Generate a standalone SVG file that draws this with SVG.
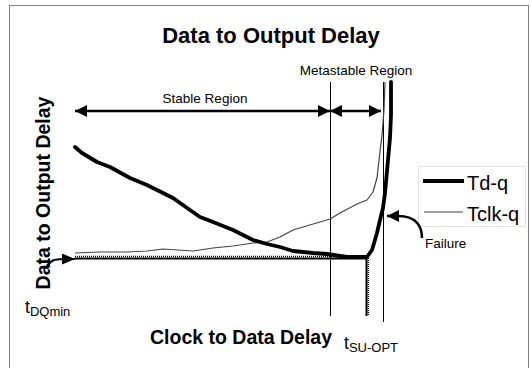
<svg xmlns="http://www.w3.org/2000/svg" width="531" height="368" viewBox="0 0 531 368">
  <defs>
    <marker id="head" viewBox="0 0 12 12" refX="12" refY="6" markerWidth="12" markerHeight="12" markerUnits="userSpaceOnUse" orient="auto">
      <path d="M0,0 L12,6 L0,12 Z" fill="#000"/>
    </marker>
    <marker id="headSmall" viewBox="0 0 13 11" refX="13" refY="5.5" markerWidth="13" markerHeight="11" markerUnits="userSpaceOnUse" orient="auto">
      <path d="M0,0 L13,5.5 L0,11 Z" fill="#000"/>
    </marker>
  </defs>
  <style>
    text { font-family: "Liberation Sans", Arial, sans-serif; fill: #000; }
    .title { font-size: 22px; font-weight: bold; }
    .axis { font-size: 19.5px; font-weight: bold; }
    .region { font-size: 13.5px; }
    .legend { font-size: 20px; }
    .sym { font-size: 17.5px; }
    .sub { font-size: 13px; }
    .guide { stroke: #000; stroke-width: 1; fill: none; }
    .span { stroke: #000; stroke-width: 2.5; fill: none; marker-end: url(#head); }
    .tdq { stroke: #000; stroke-width: 3.8; fill: none; stroke-linejoin: round; stroke-linecap: round; }
    .tclk { stroke: #444; stroke-width: 1.2; fill: none; stroke-linejoin: round; }
    .floor { stroke: #000; stroke-width: 2; fill: none; }
    .floorHatch { stroke: #000; stroke-width: 1.5; fill: none; stroke-dasharray: 1 1; }
  </style>

  <rect x="0" y="0" width="531" height="368" fill="#fff"/>
  <!-- chart frame -->
  <rect x="9.5" y="5.5" width="519" height="380" fill="none" stroke="#808080" stroke-width="1"/>

  <g id="title">
    <text class="title" x="271" y="43" text-anchor="middle">Data to Output Delay</text>
  </g>

  <g id="y-axis-label">
    <text class="axis" transform="translate(50,193) rotate(-90)" text-anchor="middle">Data to Output Delay</text>
  </g>

  <g id="x-axis-label">
    <text class="axis" x="241" y="344" text-anchor="middle">Clock to Data Delay</text>
  </g>

  <g id="region-labels">
    <text class="region" x="205" y="103" text-anchor="middle">Stable Region</text>
    <text class="region" x="356" y="75" text-anchor="middle">Metastable Region</text>
  </g>

  <g id="tDQmin">
    <text class="sym" x="25" y="313">t<tspan class="sub" dy="2.5">DQmin</tspan></text>
  </g>

  <g id="tSU-OPT">
    <text class="sym" x="344" y="349">t<tspan class="sub" dy="3">SU-OPT</tspan></text>
  </g>

  <g id="failure-label">
    <text class="region" x="425" y="248">Failure</text>
  </g>

  <g id="legend">
    <rect x="418.5" y="166.5" width="107" height="60" fill="#fff" stroke="#e2e2e2" stroke-width="1"/>
    <line x1="423" y1="181" x2="464" y2="181" stroke="#000" stroke-width="4"/>
    <text class="legend" x="467" y="190">Td-q</text>
    <line x1="424" y1="212" x2="463" y2="212" stroke="#444" stroke-width="1.2"/>
    <text class="legend" x="467" y="221">Tclk-q</text>
  </g>

  <g id="connectors">
    <!-- region boundaries -->
    <line class="guide" x1="330.5" y1="82" x2="330.5" y2="316"/>
    <line class="guide" x1="383.5" y1="82" x2="383.5" y2="322"/>

    <!-- minimum delay floor and optimum setup drop -->
    <line class="floor" x1="75" y1="258.5" x2="367" y2="258.5"/>
    <line class="floorHatch" x1="75" y1="256.5" x2="367" y2="256.5"/>
    <line class="floor" x1="366.5" y1="258" x2="366.5" y2="316"/>
    <line class="floorHatch" x1="368.3" y1="258" x2="368.3" y2="316"/>

    <!-- Tclk-q curve -->
    <path class="tclk" d="M75,253 L100,252 L127,252 L147,251 L163,249 L193,251 L213,248 L233,246 L253,243 L267,242 L280,237 L293,230 L330,219 L340,213 L357,204 L367,200 L373,192 L377,178 L379,160 L382,135 L384,110 L385,82"/>

    <!-- Td-q curve -->
    <path class="tdq" d="M75,147 L82,153 L97,162 L110,167 L130,178 L147,185 L173,198 L190,210 L200,217 L213,222 L233,230 L253,240 L267,244 L280,247 L293,251 L313,253 L327,254 L347,257 L367,257 L372,250 L377,233 L380,220 L383,208 L385,193 L388,160 L390,138 L391,115 L391,82"/>

    <!-- stable / metastable spans -->
    <line class="span" x1="200" y1="111" x2="75" y2="111"/>
    <line class="span" x1="200" y1="111" x2="330" y2="111"/>
    <line class="span" x1="360" y1="111" x2="330" y2="111"/>
    <line class="span" x1="360" y1="111" x2="381" y2="111"/>

    <!-- pointers -->
    <path d="M47,266 C50,261 54,259 63,259 L75,259" fill="none" stroke="#000" stroke-width="2.2" marker-end="url(#headSmall)"/>
    <path d="M422,238 C422,226 416,216 398,216 L387,216" fill="none" stroke="#000" stroke-width="2.5" marker-end="url(#head)"/>
  </g>
</svg>
